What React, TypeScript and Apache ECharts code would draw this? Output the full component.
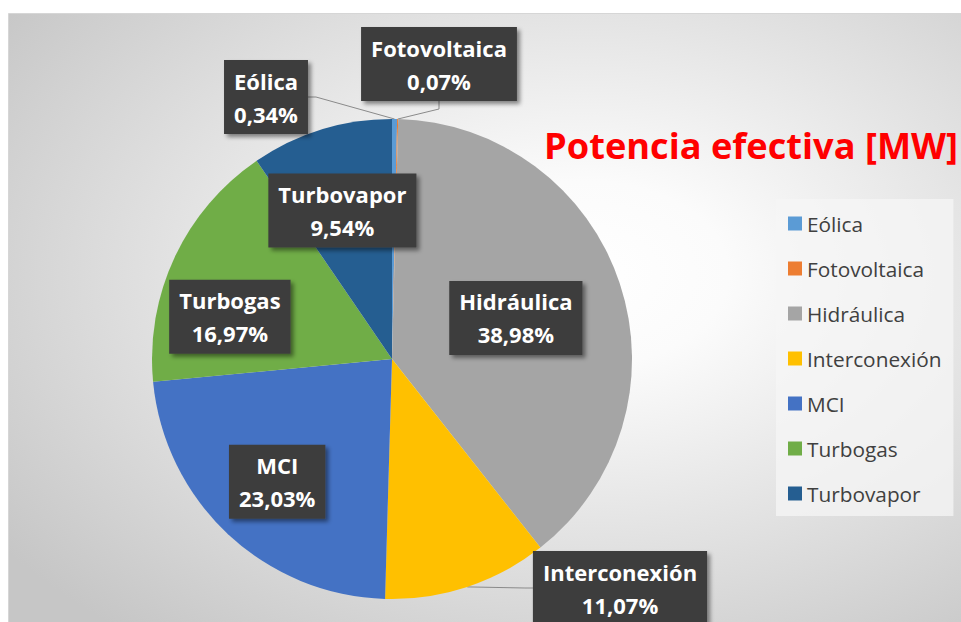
import React, { useEffect, useRef } from 'react';
import * as echarts from 'echarts';

// ---- data ----
const categories = ['Eólica', 'Fotovoltaica', 'Hidráulica', 'Interconexión', 'MCI', 'Turbogas', 'Turbovapor'];
const shares = [0.34, 0.07, 38.98, 11.07, 23.03, 16.97, 9.54];
const sliceColors = ['#5b9bd5', '#ed7d31', '#a5a5a5', '#ffc000', '#4472c4', '#70ad47', '#255e91'];
const chartTitle = 'Potencia efectiva [MW]';

// labels drawn outside the pie (with leader lines) and inside at two depths
const outsideNames = ['Eólica', 'Fotovoltaica', 'Interconexión'];
const innerNames = ['Hidráulica'];
const midNames = ['MCI', 'Turbogas', 'Turbovapor'];

// ---- layout / style ----
const FONT = "'Open Sans', 'Noto Sans', 'Liberation Sans', sans-serif";
const CENTER = [392, 359];
const R = 240;
const outsideLabelAt: Record<string, number[]> = {
  'Eólica': [266, 97],
  'Fotovoltaica': [439, 64],
  'Interconexión': [620, 588],
};
// small nudges of inside labels (Excel "best fit" placement)
const labelNudge: Record<string, number[]> = {
  'Turbogas': [-10, 29],
  'Turbovapor': [0, 12],
};

const fmt = (p: any) => `${p.name}\n${Number(p.value).toFixed(2).replace('.', ',')}%`;

const labelBox = {
  show: true,
  formatter: fmt,
  color: '#ffffff',
  fontFamily: FONT,
  fontSize: 22,
  fontWeight: 'bold',
  lineHeight: 33,
  align: 'center',
  backgroundColor: '#3d3d3d',
  padding: [4, 10, 4, 10],
  shadowColor: 'rgba(0,0,0,0.45)',
  shadowBlur: 4,
  shadowOffsetX: 3,
  shadowOffsetY: 3,
};

const labelRing = (r0: number, names: string[]) => ({
  type: 'pie',
  center: CENTER,
  radius: [r0, R],
  startAngle: 90,
  clockwise: true,
  silent: true,
  z: 3,
  itemStyle: { color: 'rgba(0,0,0,0)', borderWidth: 0 },
  label: { ...labelBox, position: 'inside' },
  labelLine: { show: false },
  emphasis: { disabled: true },
  data: categories.map((name, i) => ({
    name,
    value: shares[i],
    label: names.includes(name)
      ? { show: true, offset: labelNudge[name] || [0, 0] }
      : { show: false },
  })),
});

export default function App() {
  const ref = useRef<HTMLDivElement>(null);

  useEffect(() => {
    if (!ref.current) return;
    const chart = echarts.init(ref.current, null, { renderer: 'svg' });
    const option: any = {
      animation: false,
      backgroundColor: '#ffffff',
      graphic: [
        {
          type: 'rect',
          z: -10,
          silent: true,
          shape: { x: 8.5, y: 13.5, width: 960, height: 620 },
          style: {
            fill: new echarts.graphic.RadialGradient(0.6, 0.42, 0.75, [
              { offset: 0, color: '#ffffff' },
              { offset: 0.2, color: '#fbfbfb' },
              { offset: 1, color: '#c6c6c6' },
            ]),
            stroke: '#d6d6d6',
            lineWidth: 1,
          },
        },
      ],
      title: {
        text: chartTitle,
        right: 3,
        top: 122,
        padding: 0,
        textStyle: {
          color: '#ff0000',
          fontSize: 36.2,
          fontWeight: 'bold',
          fontFamily: FONT,
          lineHeight: 46,
        },
      },
      legend: {
        orient: 'vertical',
        left: 776,
        top: 199,
        padding: [14, 12, 12, 12],
        itemGap: 24,
        itemWidth: 14,
        itemHeight: 14,
        icon: 'rect',
        selectedMode: false,
        backgroundColor: 'rgba(246,246,246,0.75)',
        textStyle: { fontFamily: FONT, fontSize: 20.8, color: '#404040', lineHeight: 20 },
        data: categories.map((name, i) => ({ name, itemStyle: { color: sliceColors[i] } })),
      },
      series: [
        {
          type: 'pie',
          center: CENTER,
          radius: R,
          startAngle: 90,
          clockwise: true,
          silent: true,
          avoidLabelOverlap: false,
          z: 2,
          data: categories.map((name, i) => ({
            name,
            value: shares[i],
            itemStyle: { color: sliceColors[i] },
            label: { show: outsideNames.includes(name) },
          })),
          label: { ...labelBox, position: 'outside' },
          labelLine: {
            show: true,
            length: 10,
            length2: 8,
            smooth: false,
            lineStyle: { color: '#8a8a8a', width: 1 },
          },
          labelLayout: (params: any) => {
            const pos = outsideLabelAt[categories[params.dataIndex]];
            if (!pos) return {};
            return { x: pos[0], y: pos[1], align: 'center', verticalAlign: 'middle' };
          },
        },
        labelRing(15, innerNames),
        labelRing(90, midNames),
      ],
    };
    chart.setOption(option);
    return () => chart.dispose();
  }, []);

  return (
    <div
      ref={ref}
      style={{ position: 'absolute', left: 0, top: 0, width: 961, height: 622 }}
    />
  );
}
